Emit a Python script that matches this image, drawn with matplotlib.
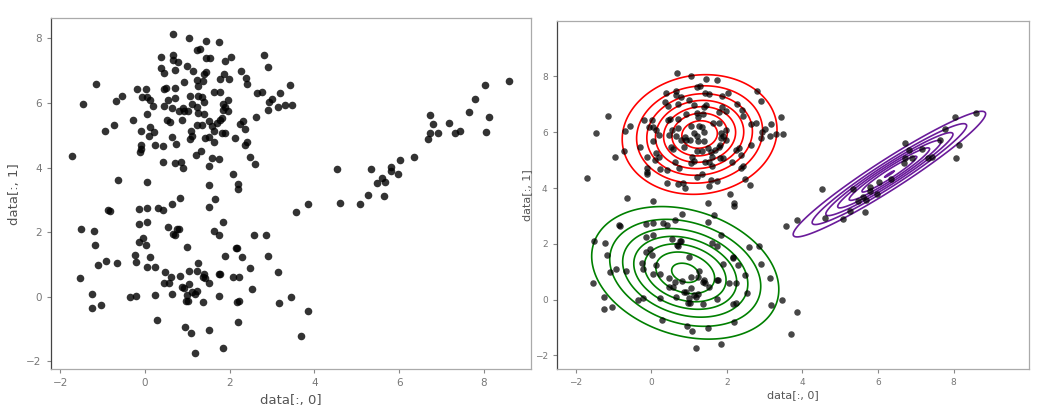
import numpy as np
import matplotlib
matplotlib.use("Agg")
import matplotlib.pyplot as plt

# ---- data (data[:, 0], data[:, 1]) ----
top_x = [0.67, 1.04, 1.45, 1.75, 1.22, 1.29, 0.66, 0.39, 0.66, 0.78, 1.43, 1.53, 1.88, 1.00, 0.37, 0.45,
         0.72, 1.13, 1.44, 1.40, 1.86, 1.78, 0.92, 1.22, 1.37, 1.25, 0.02, 0.45, 0.50, 0.72, 1.06, 1.26,
         1.35, 1.64, 1.78, -0.06, 0.06, 0.13, 0.71, 0.54, 0.20, 0.46, 0.65, 0.90, 1.12, 1.22, 1.39, 1.84,
         2.04, 2.80, 2.90, 2.27, 1.99, 2.39, 2.42, 3.43, 2.65, 2.77, 3.18, 3.01, 2.94, 1.97, 1.90, 3.13,
         3.31, 3.48, 2.90,
         0.06, 0.80, 0.92, 1.02, 1.25, 1.39, 1.85, 0.53, 0.58, 0.88, 1.22, 1.35, 1.51, 1.59, 1.70, 1.78,
         0.13, 0.21, 0.09, -0.10, 1.08, 1.12, 1.06, 1.62, 1.82, 0.64, 1.41, 1.52, 1.62, 0.74, 0.24, 0.42,
         -0.10, -0.10, 1.21, 1.33, 1.59, 1.74, 0.42, 0.72, 0.84, 0.90, 1.52, 0.06, 1.51,
         1.97, 1.82, 2.63, 2.24, 2.31, 2.37, 1.90, 2.13, 2.42, 2.37, 2.47, 2.60, 2.09, 2.20, 2.20,
         -1.15, -1.46, -1.71, -0.95, -0.72, -0.69, -0.55, -0.63, -0.29, -0.19, -0.11,
         0.82, 0.63, 1.66, 1.51]
top_y = [8.13, 8.01, 7.92, 7.88, 7.64, 7.67, 7.49, 7.42, 7.34, 7.27, 7.40, 7.39, 7.29, 7.16, 7.09, 6.94,
         7.03, 6.98, 6.97, 6.90, 6.90, 6.74, 6.64, 6.70, 6.67, 6.53, 6.44, 6.44, 6.48, 6.46, 6.23, 6.23,
         6.20, 6.33, 6.33, 6.18, 6.18, 6.08, 6.17, 6.08, 5.90, 5.90, 5.86, 5.84, 5.98, 5.87, 6.02, 5.98,
         7.42, 7.49, 7.12, 7.00, 6.76, 6.79, 6.59, 6.55, 6.30, 6.33, 6.30, 6.12, 6.02, 6.09, 5.87, 5.87,
         5.93, 5.93, 5.79,
         5.67, 5.74, 5.74, 5.74, 5.69, 5.67, 5.79, 5.46, 5.40, 5.48, 5.33, 5.33, 5.45, 5.28, 5.38, 5.48,
         5.26, 5.10, 4.99, 5.12, 5.12, 4.97, 4.90, 5.12, 5.07, 4.95, 4.92, 4.95, 4.78, 4.73, 4.69, 4.66,
         4.71, 4.58, 4.40, 4.51, 4.30, 4.27, 4.17, 4.13, 4.17, 3.99, 4.06, 3.55, 3.46,
         5.74, 5.53, 5.56, 5.36, 5.43, 5.19, 5.07, 4.92, 4.79, 4.71, 4.33, 4.10, 3.79, 3.48, 3.34,
         6.60, 5.96, 4.36, 5.13, 5.33, 6.05, 6.22, 3.63, 5.46, 6.45, 4.50,
         3.07, 2.86, 3.03, 2.78]

bottom_x = [-0.86, -0.82, -0.14, 0.04, 0.31, 0.43, -1.51, -1.21, -1.18, -0.14, 0.06, 0.54, 0.76, 0.80,
            0.67, 0.72, -0.04, -0.14, 0.02, 1.00, 1.62, 1.74, 1.84, 2.15, 2.17, 2.58, 2.86, 1.89, 2.29,
            2.90, 1.26, 1.23, 1.39, 1.37, 1.41, 1.04, 0.82, 1.04, 0.62, 0.57, 0.46, 0.47, -0.24, -0.22,
            0.12, 0.06, 0.23, -0.92, -1.10, -0.67, -1.54, -1.24, -1.26, -1.04, -0.35, -0.22, 0.24, 0.65,
            0.88, 0.92, 1.00, 1.02, 0.97, 1.12, 1.19, 1.23, 1.38, 1.52, 1.74, 1.76, 1.75, 2.07, 2.23,
            2.47, 2.53, 2.17, 2.23, 2.20, 3.13, 3.16, 3.45, 0.29, 0.94, 1.08, 1.51, 1.84, 1.19, 3.85, 3.69]
bottom_y = [2.69, 2.65, 2.71, 2.74, 2.74, 2.68, 2.11, 2.04, 1.60, 2.24, 2.32, 2.17, 2.11, 2.09,
            1.95, 1.91, 1.83, 1.71, 1.60, 1.54, 2.04, 1.93, 2.32, 1.52, 1.50, 1.90, 1.93, 1.28, 1.23,
            1.28, 1.04, 0.80, 0.70, 0.62, 0.58, 0.80, 0.65, 0.41, 0.62, 0.44, 0.44, 0.77, 1.30, 1.09,
            1.23, 0.93, 0.93, 1.11, 0.98, 1.04, 0.58, 0.10, -0.33, -0.26, -0.02, 0.04, 0.05, 0.10,
            0.29, 0.26, 0.06, -0.12, -0.12, 0.15, 0.08, 0.19, -0.15, 0.44, 0.72, 0.70, 0.03, 0.60, 0.60,
            0.90, 0.24, -0.15, -0.12, -0.79, 0.77, -0.19, -0.02, -0.72, -0.93, -1.13, -1.02, -1.58, -1.75,
            -0.43, -1.22]

diag_x = [8.59, 8.03, 7.78, 7.65, 8.13, 8.06, 7.17, 7.43, 7.33, 6.72, 6.81, 6.72, 6.91, 6.69, 6.35,
          6.03, 5.80, 5.80, 5.98, 5.59, 5.67, 5.47, 5.34, 4.53, 5.26, 5.65, 5.08, 4.60, 3.85, 3.56]
diag_y = [6.69, 6.55, 6.12, 5.72, 5.56, 5.09, 5.39, 5.12, 5.06, 5.63, 5.36, 5.06, 5.06, 4.90, 4.33,
          4.23, 4.03, 3.89, 3.80, 3.69, 3.56, 3.53, 3.96, 3.96, 3.16, 3.13, 2.89, 2.92, 2.86, 2.63]

# fitted Gaussian components (mean, covariance) and contour colours
comp_means = [[1.28, 5.92], [0.90, 0.96], [6.30, 4.50]]
comp_covs = [[[1.02, 0.085], [0.085, 1.12]],
             [[1.54, -0.37], [-0.37, 1.42]],
             [[1.66, 1.41], [1.41, 1.30]]]
comp_peak_ratio = [7.8, 7.3, 7.04]
comp_colors = ["red", "green", "#6a1b9a"]

x_ticks = [-2, 0, 2, 4, 6, 8]
y_ticks = [-2, 0, 2, 4, 6, 8]

data_x = np.array(top_x + bottom_x + diag_x)
data_y = np.array(top_y + bottom_y + diag_y)

fig = plt.figure(figsize=(10.49, 4.16), dpi=100)
ax1 = fig.add_axes([0.0483, 0.1122, 0.4576, 0.8438])
ax2 = fig.add_axes([0.5307, 0.1122, 0.4505, 0.8380])

def style(ax, tick_fs):
    for side in ["top", "right", "bottom"]:
        ax.spines[side].set_color("#aaaaaa")
    ax.spines["left"].set_color("#444444")
    for s in ax.spines.values():
        s.set_linewidth(0.9)
    ax.tick_params(colors="#888888", labelcolor="#777777", labelsize=tick_fs,
                   length=3, width=0.8)

ax1.scatter(data_x, data_y, s=30, c="k", alpha=0.8, linewidths=0)
ax1.set_xticks(x_ticks)
ax1.set_yticks(y_ticks)
ax1.set_xlabel("data[:, 0]", fontsize=9.5, color="#555555")
ax1.set_ylabel("data[:, 1]", fontsize=9.5, color="#555555")
style(ax1, 7.5)

gx = np.linspace(-2.5, 10, 400)
gy = np.linspace(-2.5, 10, 400)
GX, GY = np.meshgrid(gx, gy)
for m, c, a, col in zip(comp_means, comp_covs, comp_peak_ratio, comp_colors):
    m = np.array(m); c = np.array(c)
    inv = np.linalg.inv(c)
    dx = GX - m[0]; dy = GY - m[1]
    q = inv[0, 0] * dx * dx + 2 * inv[0, 1] * dx * dy + inv[1, 1] * dy * dy
    peak = 1.0 / (2 * np.pi * np.sqrt(np.linalg.det(c)))
    Z = peak * np.exp(-0.5 * q)
    levels = [peak * k / a for k in range(1, 8)]
    ax2.contour(GX, GY, Z, levels=levels, colors=col, linewidths=1.2)

ax2.scatter(data_x, data_y, s=22, c="k", alpha=0.72, linewidths=0, zorder=3)
ax2.set_xlim(-2.5, 10)
ax2.set_ylim(-2.5, 10)
ax2.set_xticks(x_ticks)
ax2.set_yticks(y_ticks)
ax2.set_xlabel("data[:, 0]", fontsize=8, color="#555555", labelpad=2)
ax2.set_ylabel("data[:, 1]", fontsize=8, color="#555555", labelpad=2)
style(ax2, 6.5)

fig.savefig("out.png", dpi=100)
